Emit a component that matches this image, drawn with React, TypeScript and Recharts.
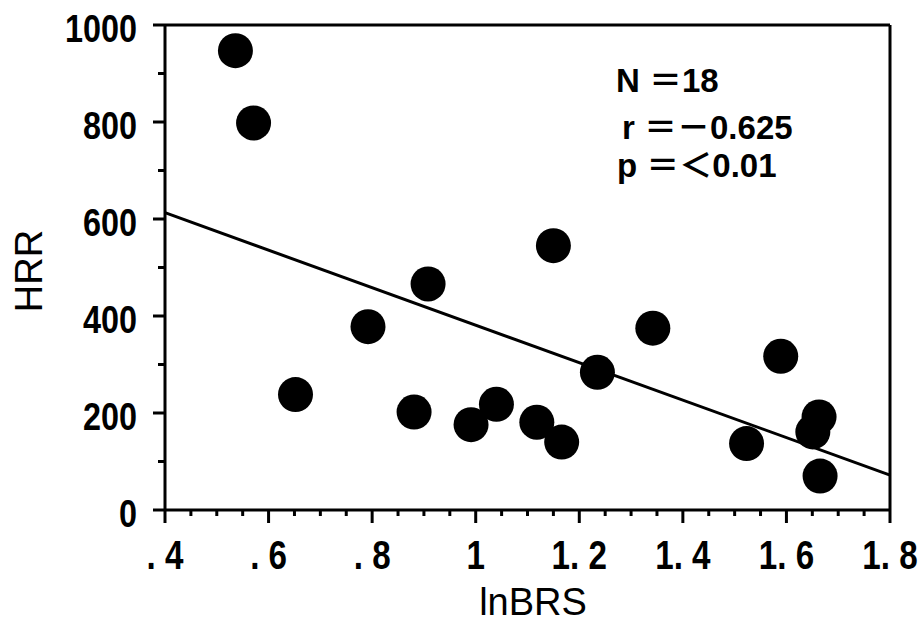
import React from 'react';
import { ScatterChart, Scatter, XAxis, YAxis, ReferenceLine } from 'recharts';

const lnBRS = [0.536, 0.571, 0.652, 0.792, 0.881, 0.908, 0.991, 1.04, 1.118, 1.15, 1.166, 1.235, 1.342, 1.523, 1.589, 1.651, 1.663, 1.665];
const HRR = [947, 798, 238, 378, 202, 466, 176, 218, 181, 545, 140, 284, 375, 137, 317, 161, 192, 70];

const fitX = [0.4, 1.8];
const fitY = [613, 72];

const xTicks = [0.4, 0.45, 0.5, 0.55, 0.6, 0.65, 0.7, 0.75, 0.8, 0.85, 0.9, 0.95, 1, 1.05, 1.1, 1.15, 1.2, 1.25, 1.3, 1.35, 1.4, 1.45, 1.5, 1.55, 1.6, 1.65, 1.7, 1.75, 1.8];
const xMajor = [0.4, 0.6, 0.8, 1, 1.2, 1.4, 1.6, 1.8];
const xMajorLabels = ['. 4', '. 6', '. 8', '1', '1. 2', '1. 4', '1. 6', '1. 8'];

const yTicks = [0, 100, 200, 300, 400, 500, 600, 700, 800, 900, 1000];
const yMajor = [0, 200, 400, 600, 800, 1000];
const yMajorLabels = ['0', '200', '400', '600', '800', '1000'];

const statLines = ['N ＝18', 'r ＝－0.625', 'p ＝＜0.01'];
const xTitle = 'lnBRS';
const yTitle = 'HRR';

const points = lnBRS.map((x, i) => ({ x, y: HRR[i] }));
const fitSegment = fitX.map((x, i) => ({ x, y: fitY[i] }));

const tickFont = "'Liberation Sans', Arial, Helvetica, sans-serif";

const findIdx = (arr: number[], v: number) => arr.findIndex((a) => Math.abs(a - v) < 1e-6);

const XTick = (props: any) => {
  const { x, y, payload } = props;
  const idx = findIdx(xMajor, payload.value);
  const major = idx >= 0;
  return (
    <g>
      <line x1={x} y1={y} x2={x} y2={y + (major ? 13 : 6)} stroke="#000" strokeWidth={3} />
      {major && (
        <g transform={`translate(${x},${y + 59}) scale(0.83,1)`}>
          <text x={0} y={0} textAnchor="middle" fontFamily={tickFont} fontWeight="bold" fontSize={40} fill="#000">
            {xMajorLabels[idx]}
          </text>
        </g>
      )}
    </g>
  );
};

const YTick = (props: any) => {
  const { x, y, payload } = props;
  const idx = findIdx(yMajor, payload.value);
  const major = idx >= 0;
  return (
    <g>
      <line x1={x} y1={y} x2={x - (major ? 12 : 7)} y2={y} stroke="#000" strokeWidth={3} />
      {major && (
        <g transform={`translate(${x - 28},${y + 17}) scale(0.83,1)`}>
          <text x={0} y={0} textAnchor="end" fontFamily={tickFont} fontWeight="bold" fontSize={39} fill="#000">
            {yMajorLabels[idx]}
          </text>
        </g>
      )}
    </g>
  );
};

const Dot = (props: any) => <circle cx={props.cx} cy={props.cy} r={17.5} fill="#000" />;

export default function App() {
  const statX = [616, 622, 617];
  const statY = [92, 139, 177];
  return (
    <div style={{ position: 'absolute', left: 0, top: 0, width: 922, height: 623, background: '#fff' }}>
      <ScatterChart width={922} height={623} margin={{ top: 25, right: 32, bottom: 53, left: 65 }}>
        <XAxis
          type="number"
          dataKey="x"
          domain={[0.4, 1.8]}
          ticks={xTicks}
          interval={0}
          tickSize={0}
          tickMargin={0}
          height={60}
          axisLine={{ stroke: '#000', strokeWidth: 3 }}
          tickLine={false}
          tick={<XTick />}
          allowDataOverflow
        />
        <YAxis
          type="number"
          dataKey="y"
          domain={[0, 1000]}
          ticks={yTicks}
          interval={0}
          tickSize={0}
          tickMargin={0}
          width={100}
          axisLine={{ stroke: '#000', strokeWidth: 3 }}
          tickLine={false}
          tick={<YTick />}
          allowDataOverflow
        />
        <ReferenceLine y={1000} stroke="#000" strokeWidth={3} />
        <ReferenceLine x={1.8} stroke="#000" strokeWidth={3} />
        <ReferenceLine segment={fitSegment} stroke="#000" strokeWidth={3} />
        <Scatter data={points} shape={Dot} isAnimationActive={false} />
      </ScatterChart>
      <svg width={922} height={623} style={{ position: 'absolute', left: 0, top: 0, pointerEvents: 'none' }}>
        <text x={533} y={615} textAnchor="middle" fontFamily={tickFont} fontSize={38} fill="#000">
          {xTitle}
        </text>
        <text
          x={0}
          y={0}
          transform="translate(42,271) rotate(-90)"
          textAnchor="middle"
          fontFamily={tickFont}
          fontSize={38}
          fill="#000"
        >
          {yTitle}
        </text>
        {statLines.map((s, i) => (
          <text
            key={i}
            x={statX[i]}
            y={statY[i]}
            fontFamily="'Liberation Sans', Arial, 'Noto Sans CJK JP', sans-serif"
            fontWeight="bold"
            fontSize={33}
            fill="#000"
          >
            {s}
          </text>
        ))}
      </svg>
    </div>
  );
}
